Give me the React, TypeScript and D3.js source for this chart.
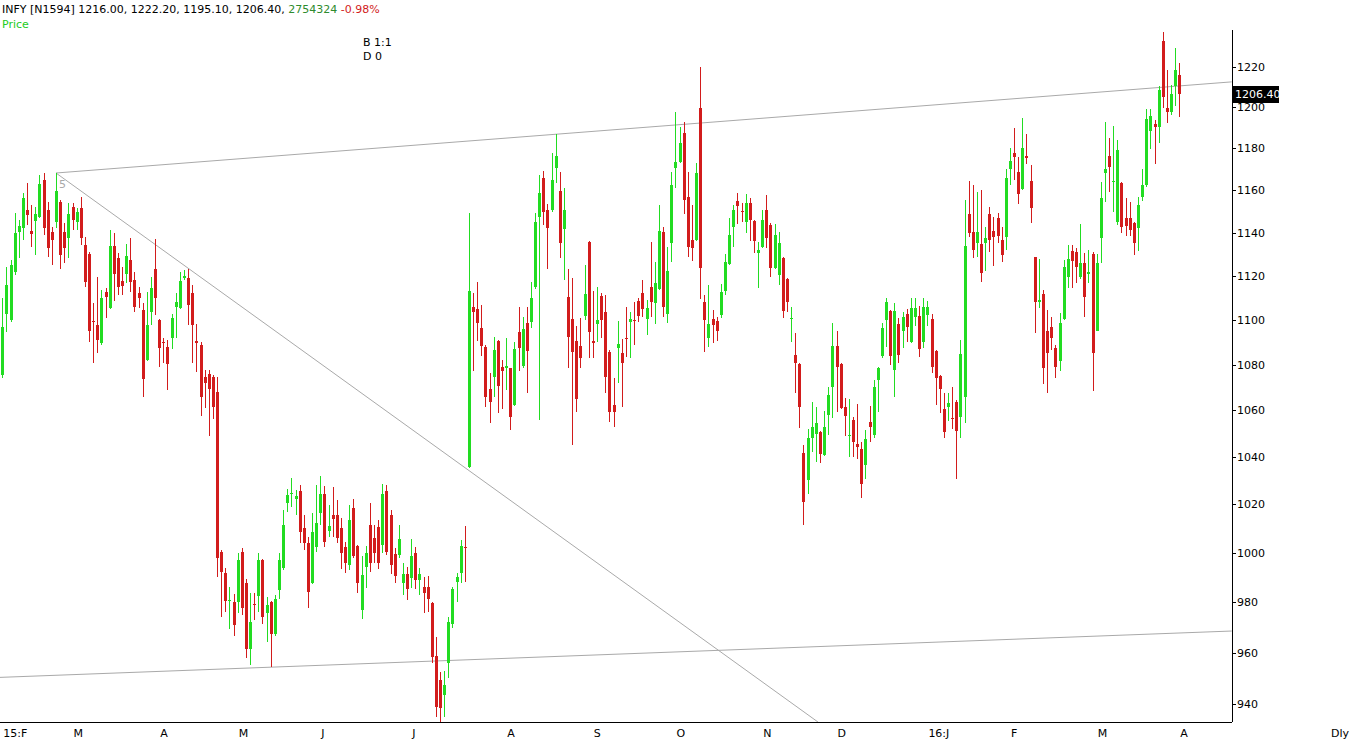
import React from "react";
import * as d3 from "d3";

// Daily OHLC for INFY, one entry per trading session (Feb 2015 – Apr 2016)
const opens = [
  1075.5, 1102.7, 1100.0, 1121.8, 1140.4, 1142.2, 1150.7, 1140.8, 1145.5, 1147.4,
  1164.9, 1150.7, 1140.4, 1145.0, 1154.5, 1140.4, 1137.5, 1152.1, 1145.0, 1151.6,
  1134.3, 1130.1, 1099.6, 1097.8, 1089.7, 1112.7, 1105.4, 1133.8, 1128.2, 1117.8,
  1120.9, 1127.3, 1118.2, 1112.2, 1104.5, 1082.1, 1103.6, 1123.2, 1100.0, 1090.1,
  1087.9, 1091.9, 1105.9, 1105.4, 1119.1, 1119.1, 1112.2, 1090.6, 1088.8, 1074.6,
  1075.9, 1074.6, 1068.0, 1000.4, 991.8, 980.5, 980.1, 980.1, 1000.4, 987.7,
  961.4, 979.3, 982.5, 997.1, 975.7, 980.1, 967.3, 984.9, 993.8, 1020.6,
  1024.8, 1022.3, 1025.7, 1010.2, 1004.1, 987.7, 1002.4, 1016.4, 1024.4, 1009.0,
  1015.6, 1015.6, 1010.2, 1002.4, 995.0, 1018.5, 1002.8, 976.9, 994.2, 1011.5,
  1006.1, 1010.6, 1003.3, 1025.7, 1015.6, 999.6, 999.1, 987.7, 991.4, 989.7,
  1000.0, 988.9, 986.1, 986.1, 979.7, 958.7, 949.3, 943.4, 956.0, 971.3,
  988.1, 991.8, 1002.4, 1035.8, 1105.9, 1105.0, 1096.4, 1087.9, 1069.3, 1074.6,
  1090.6, 1079.0, 1078.6, 1078.6, 1062.4, 1094.6, 1079.4, 1098.7, 1099.1, 1115.0,
  1147.4, 1165.9, 1150.7, 1150.7, 1170.6, 1159.6, 1141.8, 1110.4, 1100.5, 1090.6,
  1088.4, 1101.8, 1135.7, 1090.6, 1098.2, 1110.9, 1103.6, 1085.7, 1062.4, 1087.5,
  1085.3, 1091.9, 1099.1, 1100.2, 1108.6, 1112.2, 1100.5, 1115.0, 1107.6, 1114.1,
  1140.4, 1102.7, 1135.2, 1170.6, 1173.5, 1187.4, 1156.8, 1136.6, 1136.6, 1199.7,
  1108.1, 1091.9, 1100.5, 1099.6, 1102.2, 1113.1, 1125.5, 1142.7, 1154.9, 1150.3,
  1145.0, 1154.0, 1145.5, 1130.6, 1133.4, 1150.7, 1143.6, 1123.6, 1120.4, 1128.2,
  1118.6, 1100.5, 1084.4, 1080.3, 1041.7, 1030.3, 1048.2, 1049.9, 1050.7, 1040.9,
  1058.0, 1070.2, 1088.4, 1080.3, 1061.5, 1049.2, 1055.9, 1045.6, 1043.4, 1036.6,
  1055.0, 1049.4, 1073.3, 1083.9, 1100.0, 1104.1, 1077.7, 1098.2, 1095.1, 1102.7,
  1090.1, 1101.4, 1101.8, 1090.1, 1102.2, 1100.5, 1086.2, 1075.1, 1060.6, 1061.5,
  1056.8, 1063.7, 1057.2, 1065.9, 1148.8, 1140.4, 1135.2, 1134.8, 1135.2, 1148.8,
  1140.8, 1146.9, 1136.6, 1138.0, 1170.1, 1177.8, 1168.7, 1160.6, 1176.3, 1164.4,
  1128.7, 1108.1, 1111.8, 1095.1, 1096.9, 1087.5, 1081.7, 1100.5, 1119.5, 1131.5,
  1131.1, 1119.5, 1125.9, 1120.9, 1130.1, 1095.1, 1137.5, 1168.2, 1176.3, 1164.0,
  1145.0, 1163.5, 1146.9, 1146.9, 1144.6, 1142.2, 1156.8, 1162.5, 1188.4, 1191.8,
  1190.4, 1233.1, 1199.7, 1197.7, 1210.6, 1216.0,
];

const highs = [
  1110.0, 1124.1, 1127.3, 1149.3, 1146.0, 1158.7, 1163.5, 1153.0, 1152.1, 1167.2,
  1168.2, 1154.5, 1142.7, 1168.2, 1155.4, 1144.6, 1154.0, 1154.0, 1151.6, 1156.8,
  1138.0, 1131.1, 1107.6, 1119.5, 1113.6, 1114.5, 1141.3, 1139.9, 1130.6, 1124.1,
  1134.8, 1137.5, 1121.8, 1115.0, 1107.6, 1112.7, 1119.5, 1137.1, 1100.5, 1091.9,
  1091.0, 1102.7, 1112.2, 1121.8, 1122.7, 1123.2, 1115.9, 1098.2, 1090.1, 1077.7,
  1077.7, 1075.5, 1074.6, 1001.2, 993.8, 986.1, 983.3, 1000.0, 1002.0, 989.3,
  983.7, 983.7, 1000.0, 997.5, 982.1, 980.5, 982.9, 1000.0, 1017.7, 1026.5,
  1031.1, 1026.1, 1028.2, 1015.6, 1006.5, 1016.4, 1028.2, 1031.9, 1027.8, 1019.8,
  1027.4, 1021.9, 1014.3, 1004.5, 1019.8, 1022.3, 1003.2, 998.7, 1002.8, 1020.6,
  1011.5, 1013.5, 1028.6, 1028.2, 1017.7, 1002.0, 1011.5, 995.8, 994.2, 1005.7,
  1002.4, 993.8, 990.1, 990.5, 980.1, 966.1, 952.4, 952.8, 974.1, 986.1,
  991.8, 1005.3, 1011.1, 1149.3, 1112.2, 1117.3, 1106.8, 1088.8, 1076.4, 1092.3,
  1091.0, 1082.1, 1091.9, 1078.8, 1090.1, 1105.9, 1101.4, 1105.9, 1117.3, 1149.3,
  1167.2, 1169.1, 1153.5, 1177.8, 1187.0, 1168.7, 1161.1, 1123.2, 1119.1, 1097.3,
  1100.9, 1125.0, 1136.0, 1113.1, 1115.0, 1112.2, 1111.3, 1086.6, 1074.2, 1099.6,
  1091.5, 1105.9, 1103.6, 1108.1, 1109.9, 1118.2, 1109.0, 1135.7, 1126.4, 1153.0,
  1142.7, 1133.4, 1168.7, 1197.7, 1190.4, 1192.8, 1168.7, 1153.0, 1173.0, 1220.0,
  1111.3, 1115.9, 1104.5, 1101.4, 1116.4, 1130.1, 1146.9, 1153.0, 1158.7, 1154.0,
  1158.2, 1156.3, 1146.0, 1135.7, 1150.7, 1157.7, 1144.6, 1144.1, 1140.4, 1128.7,
  1119.1, 1105.9, 1094.2, 1080.8, 1045.1, 1052.0, 1063.7, 1061.5, 1051.0, 1059.8,
  1070.2, 1098.7, 1095.1, 1080.8, 1065.5, 1065.0, 1057.2, 1062.8, 1046.4, 1051.6,
  1061.9, 1073.3, 1079.0, 1098.7, 1109.9, 1104.5, 1107.6, 1100.9, 1103.6, 1105.0,
  1109.9, 1109.9, 1106.3, 1109.9, 1108.6, 1102.7, 1086.5, 1075.4, 1067.6, 1067.6,
  1070.2, 1064.6, 1091.0, 1155.4, 1164.4, 1162.5, 1159.2, 1160.1, 1142.7, 1152.1,
  1147.4, 1149.3, 1142.7, 1170.1, 1180.2, 1190.0, 1175.9, 1194.8, 1187.0, 1172.0,
  1128.9, 1127.8, 1113.6, 1104.5, 1101.4, 1088.8, 1103.2, 1127.3, 1134.3, 1134.3,
  1132.9, 1144.1, 1130.6, 1132.0, 1131.1, 1130.1, 1164.0, 1192.8, 1185.1, 1190.9,
  1184.1, 1163.7, 1156.3, 1154.5, 1145.0, 1156.8, 1170.1, 1199.2, 1199.2, 1193.8,
  1210.6, 1237.6, 1218.5, 1211.1, 1229.5, 1222.2,
];

const lows = [
  1074.2, 1094.6, 1099.1, 1120.4, 1128.2, 1136.6, 1143.6, 1133.4, 1129.6, 1146.9,
  1138.9, 1128.7, 1125.0, 1142.2, 1123.2, 1125.9, 1128.2, 1141.3, 1141.3, 1134.3,
  1115.0, 1090.1, 1080.8, 1085.3, 1088.8, 1100.9, 1105.0, 1108.6, 1111.3, 1111.3,
  1116.8, 1112.7, 1103.6, 1105.4, 1065.9, 1081.7, 1097.8, 1102.2, 1079.0, 1080.8,
  1068.9, 1087.0, 1091.9, 1105.0, 1118.2, 1097.8, 1080.8, 1076.8, 1057.6, 1061.1,
  1049.0, 1056.3, 990.1, 974.1, 976.1, 969.3, 966.5, 975.7, 974.9, 957.9,
  955.2, 972.9, 976.1, 971.3, 964.1, 954.4, 966.5, 981.3, 993.0, 1016.9,
  1019.0, 1015.6, 1004.1, 1001.2, 977.7, 987.5, 1000.4, 1011.5, 1002.4, 1006.5,
  1006.5, 1004.1, 993.4, 991.8, 993.0, 997.9, 983.7, 973.3, 985.7, 992.2,
  995.8, 993.4, 1000.0, 999.1, 991.4, 987.7, 997.9, 982.9, 980.9, 985.7,
  985.3, 982.9, 975.7, 976.1, 956.0, 935.0, 933.1, 935.0, 950.1, 969.7,
  980.1, 987.7, 988.1, 1035.5, 1077.3, 1090.6, 1083.9, 1061.5, 1054.6, 1065.9,
  1058.9, 1060.6, 1068.9, 1051.6, 1062.0, 1077.3, 1078.6, 1067.6, 1096.4, 1114.1,
  1055.9, 1143.6, 1123.2, 1149.8, 1163.5, 1128.2, 1118.2, 1078.6, 1045.1, 1059.3,
  1078.6, 1100.0, 1083.0, 1083.0, 1090.1, 1091.9, 1067.6, 1055.0, 1052.9, 1072.0,
  1061.5, 1083.5, 1083.0, 1088.8, 1099.1, 1101.4, 1093.3, 1101.4, 1098.2, 1113.6,
  1101.4, 1098.7, 1126.4, 1161.1, 1173.0, 1148.8, 1128.7, 1126.8, 1136.1, 1109.4,
  1085.7, 1087.9, 1089.7, 1090.6, 1100.9, 1111.3, 1125.0, 1133.4, 1144.1, 1145.0,
  1139.9, 1136.1, 1130.6, 1114.5, 1133.0, 1132.9, 1119.5, 1123.2, 1115.9, 1100.9,
  1103.6, 1090.1, 1067.6, 1052.5, 1011.5, 1024.4, 1042.2, 1037.9, 1037.4, 1040.4,
  1049.4, 1056.8, 1059.3, 1060.6, 1049.0, 1040.0, 1040.0, 1039.1, 1022.7, 1030.7,
  1046.4, 1048.2, 1059.3, 1083.0, 1087.9, 1079.9, 1065.9, 1080.8, 1087.5, 1090.1,
  1089.9, 1097.3, 1083.5, 1087.5, 1097.3, 1076.4, 1062.4, 1058.9, 1048.2, 1055.5,
  1052.0, 1030.7, 1048.2, 1054.6, 1138.0, 1128.2, 1128.7, 1117.3, 1122.2, 1131.1,
  1124.5, 1135.2, 1126.4, 1132.0, 1162.5, 1164.9, 1153.5, 1160.1, 1172.5, 1144.6,
  1094.2, 1105.4, 1071.6, 1067.6, 1086.6, 1074.2, 1077.3, 1100.0, 1114.5, 1114.5,
  1116.8, 1118.6, 1101.4, 1116.8, 1068.5, 1094.9, 1125.9, 1154.5, 1159.2, 1149.8,
  1143.6, 1139.9, 1138.5, 1138.5, 1129.6, 1131.5, 1154.9, 1161.6, 1179.8, 1172.5,
  1182.6, 1199.7, 1192.3, 1196.3, 1200.7, 1195.1,
];

const closes = [
  1096.8, 1115.9, 1125.0, 1139.9, 1143.2, 1156.3, 1148.3, 1139.4, 1148.8, 1163.0,
  1142.2, 1132.9, 1136.6, 1159.6, 1129.6, 1132.9, 1148.8, 1146.0, 1149.8, 1137.5,
  1117.3, 1095.1, 1099.1, 1091.0, 1109.9, 1110.4, 1133.8, 1120.9, 1115.0, 1115.5,
  1129.2, 1117.3, 1105.9, 1109.9, 1073.7, 1097.8, 1114.5, 1109.9, 1087.5, 1089.7,
  1080.3, 1100.9, 1108.1, 1117.8, 1120.0, 1106.8, 1097.8, 1089.7, 1065.9, 1072.0,
  1069.3, 1061.5, 997.9, 992.2, 980.5, 980.9, 970.9, 997.1, 977.7, 961.4,
  972.1, 978.9, 997.1, 974.1, 978.9, 967.3, 981.3, 997.1, 1011.5, 1024.0,
  1024.9, 1023.6, 1008.6, 1004.1, 984.1, 1008.6, 1012.3, 1024.4, 1004.5, 1011.1,
  1013.9, 1006.1, 1000.0, 995.8, 1013.5, 998.7, 987.7, 990.9, 1000.0, 995.8,
  1000.0, 995.8, 1024.4, 1000.4, 995.0, 990.5, 1005.7, 991.4, 985.3, 998.7,
  988.9, 991.4, 983.7, 981.3, 958.3, 938.9, 938.5, 947.3, 972.1, 985.3,
  990.1, 1002.8, 1002.0, 1113.1, 1103.6, 1098.7, 1088.4, 1065.9, 1063.7, 1086.6,
  1070.6, 1077.3, 1079.4, 1057.2, 1087.0, 1087.5, 1095.9, 1086.2, 1109.9, 1145.0,
  1158.7, 1149.8, 1142.2, 1164.9, 1176.3, 1135.2, 1150.7, 1092.3, 1085.7, 1065.0,
  1083.0, 1111.8, 1094.6, 1089.7, 1100.0, 1100.0, 1074.6, 1059.3, 1059.3, 1089.3,
  1080.8, 1091.7, 1100.5, 1099.8, 1101.8, 1105.0, 1105.4, 1108.1, 1116.8, 1140.8,
  1105.9, 1122.2, 1162.5, 1173.5, 1182.6, 1155.4, 1133.4, 1132.9, 1168.2, 1123.6,
  1100.0, 1098.2, 1097.8, 1095.1, 1112.7, 1126.4, 1138.9, 1150.7, 1152.6, 1150.1,
  1154.0, 1146.0, 1136.1, 1132.0, 1146.0, 1137.5, 1123.6, 1138.9, 1135.2, 1104.1,
  1108.1, 1100.9, 1080.8, 1061.5, 1021.0, 1048.2, 1052.9, 1054.6, 1041.3, 1052.9,
  1066.7, 1088.4, 1079.0, 1061.1, 1057.6, 1049.6, 1046.4, 1044.3, 1028.6, 1047.7,
  1052.9, 1070.2, 1078.6, 1096.4, 1108.1, 1083.9, 1104.1, 1084.4, 1101.4, 1096.9,
  1105.4, 1105.4, 1087.0, 1105.9, 1105.9, 1079.0, 1074.2, 1069.3, 1050.7, 1063.3,
  1056.3, 1051.1, 1084.8, 1133.8, 1139.9, 1132.0, 1140.4, 1121.3, 1137.5, 1136.6,
  1138.0, 1138.5, 1129.6, 1165.9, 1173.9, 1175.9, 1158.2, 1180.2, 1175.4, 1151.6,
  1108.1, 1109.0, 1078.6, 1085.3, 1091.9, 1079.0, 1098.7, 1124.1, 1127.8, 1126.8,
  1124.1, 1125.9, 1110.4, 1121.8, 1085.3, 1125.9, 1156.3, 1170.1, 1171.1, 1164.4,
  1179.3, 1142.7, 1143.2, 1141.3, 1135.2, 1153.0, 1162.5, 1194.3, 1195.7, 1190.4,
  1208.6, 1205.1, 1197.7, 1206.6, 1218.3, 1206.4,
];

// Session volume shown in the title
const lastVolume = 2754324;

// Right-hand price axis
const priceTicks = [940, 960, 980, 1000, 1020, 1040, 1060, 1080, 1100, 1120, 1140, 1160, 1180, 1200, 1220];

// Month labels and the session each one starts at
const monthLabels = ["15:F", "M", "A", "M", "J", "J", "A", "S", "O", "N", "D", "16:J", "F", "M", "A"];
const monthStartBars = [0, 17, 38, 57, 77, 99, 122, 143, 163, 184, 202, 224, 244, 265, 285];

// Hand-drawn trend lines, anchored as [bar, price]
const trendFrom = [[13, 1168.2], [13, 1168.2], [-0.56, 950.3]];
const trendTo = [[297.7, 1212.6], [197.5, 933.1], [297.7, 968.5]];

const WIDTH = 1352;
const HEIGHT = 741;
const AXIS_X = 1232;
const UP = "#22dc22";
const DOWN = "#d21c1c";
const FONT = "'DejaVu Sans', Verdana, sans-serif";

export default function App() {
  const n = closes.length;
  const x = d3.scaleLinear().domain([0, n - 1]).range([2.3, 1179.3]);
  const y = d3.scaleLog().domain([940, 1220]).range([704, 67]);

  const last = n - 1;
  const lastClose = closes[last];
  const change = ((lastClose - closes[last - 1]) / closes[last - 1]) * 100;

  const lineGen = d3
    .line<number[]>()
    .x((d) => x(d[0]))
    .y((d) => y(d[1]));

  const candles = d3.range(n).map((i) => {
    const cx = Math.round(x(i));
    const o = opens[i];
    const c = closes[i];
    const up = c >= o;
    const color = up ? UP : DOWN;
    const top = Math.round(y(Math.max(o, c)));
    const bot = Math.round(y(Math.min(o, c)));
    const hi = Math.round(y(highs[i]));
    const lo = Math.round(y(lows[i]));
    return (
      <g key={i}>
        <rect x={cx} y={hi} width={1} height={Math.max(1, lo - hi)} fill={color} />
        <rect x={cx - 1} y={top} width={3} height={Math.max(1, bot - top)} fill={color} />
      </g>
    );
  });

  const anchor = trendFrom[0];

  return (
    <svg
      width={WIDTH}
      height={HEIGHT}
      style={{ position: "absolute", left: 0, top: 0, background: "#fff" }}
      fontFamily={FONT}
    >
      <rect x={0} y={0} width={WIDTH} height={HEIGHT} fill="#fff" />

      {/* trend lines, clipped to the plot */}
      <clipPath id="plot">
        <rect x={0} y={0} width={AXIS_X} height={722} />
      </clipPath>
      <g clipPath="url(#plot)">
        {trendFrom.map((f, k) => (
          <path
            key={k}
            d={lineGen([f, trendTo[k]]) || ""}
            stroke="#a9a9a9"
            strokeWidth={1}
            fill="none"
          />
        ))}
      </g>
      <text x={x(anchor[0]) + 3} y={y(anchor[1]) + 15} fontSize={11} fill="#a9a9a9">
        5
      </text>

      {candles}

      {/* price axis */}
      <line x1={AXIS_X + 0.5} x2={AXIS_X + 0.5} y1={30} y2={722} stroke="#000" />
      {priceTicks.map((t) => (
        <g key={t}>
          <line
            x1={AXIS_X}
            x2={AXIS_X + 4}
            y1={Math.round(y(t)) + 0.5}
            y2={Math.round(y(t)) + 0.5}
            stroke="#000"
          />
          <text x={AXIS_X + 5} y={y(t) + 4} fontSize={11} fill="#000">
            {t}
          </text>
        </g>
      ))}
      <rect x={AXIS_X + 1} y={Math.round(y(lastClose)) - 8} width={46} height={17} fill="#000" />
      <text x={AXIS_X + 3} y={y(lastClose) + 4} fontSize={11} fill="#fff">
        {lastClose.toFixed(2)}
      </text>

      {/* date axis */}
      <line x1={0} x2={AXIS_X} y1={722.5} y2={722.5} stroke="#000" />
      {monthLabels.map((m, k) => (
        <text key={k} x={x(monthStartBars[k]) + 1} y={737} fontSize={11} fill="#000">
          {m}
        </text>
      ))}
      <text x={1331} y={737} fontSize={11} fill="#000">
        Dly
      </text>

      {/* title */}
      <text x={2} y={13} fontSize={11} fill="#000">
        {`INFY [N1594] ${opens[last].toFixed(2)}, ${highs[last].toFixed(2)}, ${lows[last].toFixed(2)}, ${lastClose.toFixed(2)}, `}
        <tspan fill="#2e8b2e">{lastVolume}</tspan>
        <tspan fill="#d21c1c">{` ${change.toFixed(2)}%`}</tspan>
      </text>
      <text x={2} y={28} fontSize={11} fill="#22cc22">
        Price
      </text>
      <text x={363} y={46} fontSize={11} fill="#000">
        B 1:1
      </text>
      <text x={363} y={60} fontSize={11} fill="#000">
        D 0
      </text>
    </svg>
  );
}
